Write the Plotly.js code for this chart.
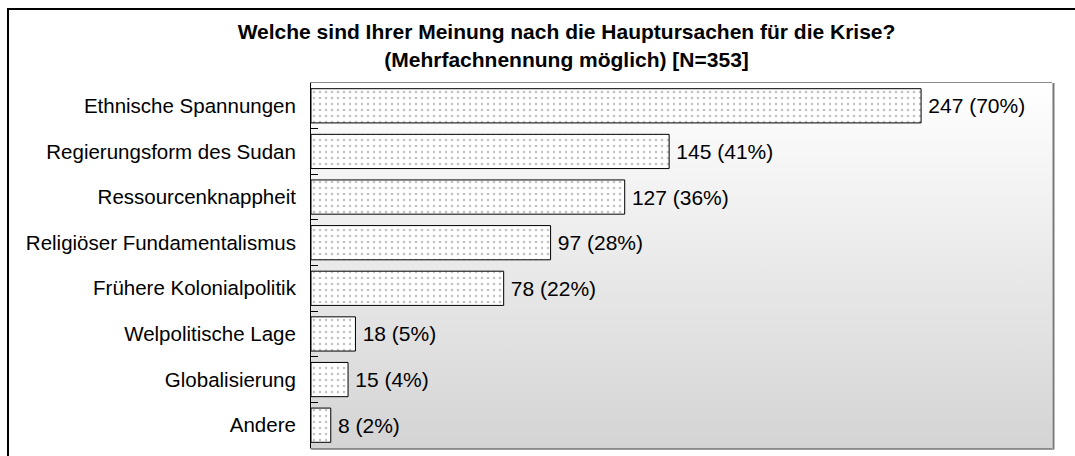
<!DOCTYPE html>
<html>
<head>
<meta charset="utf-8">
<script src="https://cdn.plot.ly/plotly-3.0.1.min.js"></script>
<style>
html,body{margin:0;padding:0;overflow:hidden;background:#fff;}
#wrap{position:relative;width:1075px;height:456px;overflow:hidden;}
#frame{position:absolute;left:7px;top:8px;width:1100px;height:500px;border:2px solid #000;box-sizing:border-box;pointer-events:none;}
#chart{position:absolute;left:0;top:0;width:1075px;height:456px;}
</style>
</head>
<body>
<div id="wrap">
<div id="chart"></div>
<div id="frame"></div>
</div>
<script>
const categories = ["Ethnische Spannungen","Regierungsform des Sudan","Ressourcenknappheit","Religiöser Fundamentalismus","Frühere Kolonialpolitik","Welpolitische Lage","Globalisierung","Andere"];
const counts = [247,145,127,97,78,18,15,8];
const percents = [70,41,36,28,22,5,4,2];
const labels = counts.map((c,i)=>"\u2009"+c+" ("+percents[i]+"%)");

const grad = 'data:image/svg+xml;utf8,' + encodeURIComponent(
'<svg xmlns="http://www.w3.org/2000/svg" width="100" height="100" preserveAspectRatio="none"><defs><linearGradient id="g" x1="0" y1="0" x2="0" y2="1"><stop offset="0" stop-color="#ffffff"/><stop offset="1" stop-color="#d4d4d4"/></linearGradient></defs><rect width="100" height="100" fill="url(#g)"/></svg>');

const FONT = 'Liberation Sans, Arial, sans-serif';

const trace = {
  type:'bar', orientation:'h',
  y: categories, x: counts,
  text: labels, textposition:'outside', cliponaxis:false,
  textfont:{family:FONT, size:21, color:'#000'},
  width:0.75,
  marker:{color:'#ffffff', line:{color:'#000', width:1},
    pattern:{shape:'.', fgcolor:'#c4c4c4', bgcolor:'#ffffff', size:6, solidity:0.15}},
  hoverinfo:'none'
};

const layout = {
  width:1075, height:456,
  margin:{l:311, r:23, t:83, b:8},
  paper_bgcolor:'rgba(0,0,0,0)', plot_bgcolor:'rgba(0,0,0,0)',
  showlegend:false,
  title:{text:'<b>Welche sind Ihrer Meinung nach die Hauptursachen für die Krise?<br>(Mehrfachnennung möglich) [N=353]</b>',
    x:0.527, xanchor:'center', yref:'container', y:0.914, yanchor:'top',
    font:{family:FONT, size:21, color:'#000'}},
  xaxis:{range:[0,300], showticklabels:false, ticks:'', showgrid:false, zeroline:false,
    showline:true, linecolor:'#888', linewidth:1, mirror:true, fixedrange:true},
  yaxis:{categoryorder:'array', categoryarray:categories, autorange:'reversed',
    ticks:'inside', tickson:'boundaries', ticklen:7, tickcolor:'#000', tickwidth:1,
    showline:true, linecolor:'#000', linewidth:1, showgrid:false, zeroline:false,
    ticklabelstandoff:10,
    tickfont:{family:FONT, size:20.5, color:'#000'}, fixedrange:true},
  images:[{source:grad, xref:'paper', yref:'paper', x:0, y:1, sizex:1, sizey:1,
    xanchor:'left', yanchor:'top', sizing:'stretch', layer:'below'}],
  shapes:[{type:'line', xref:'paper', yref:'paper', x0:1.002, x1:1.002, y0:-0.004, y1:1, line:{color:'#777', width:2}},
          {type:'line', xref:'paper', yref:'paper', x0:0, x1:1.002, y0:-0.004, y1:-0.004, line:{color:'#999', width:1}}]
};

Plotly.newPlot('chart', [trace], layout, {displayModeBar:false, staticPlot:true});
</script>
</body>
</html>
